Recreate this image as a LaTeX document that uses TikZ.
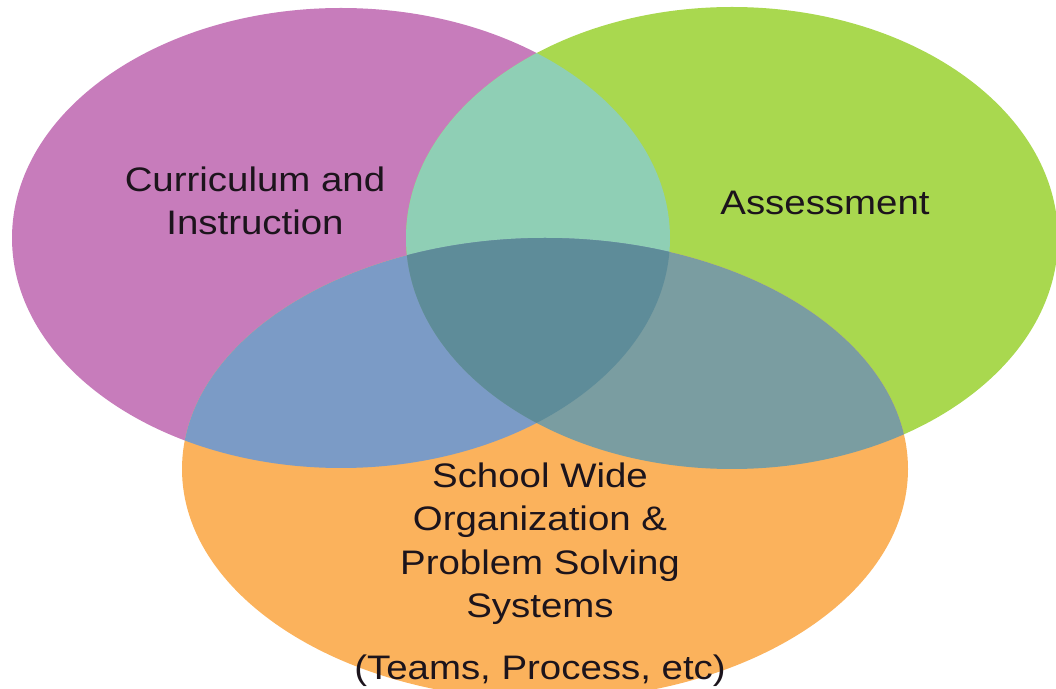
\documentclass[tikz,border=0pt]{standalone}
\usepackage{fontspec}
\setmainfont{Liberation Sans}

\definecolor{curricfill}{HTML}{C77CBB}
\definecolor{assessfill}{HTML}{A9D84F}
\definecolor{schoolfill}{HTML}{FBB25C}
\definecolor{curricassess}{HTML}{8FCFB5}
\definecolor{curricschool}{HTML}{7B9BC6}
\definecolor{assessschool}{HTML}{7A9DA1}
\definecolor{allthree}{HTML}{5E8C99}
\definecolor{labeltext}{HTML}{1C141C}

\begin{document}
\begin{tikzpicture}[
  x=0.5pt, y=-0.5pt,
  curricarea/.style={insert path={(341,238) ellipse [x radius=329, y radius=230]}},
  assessarea/.style={insert path={(732,238) ellipse [x radius=326, y radius=231]}},
  schoolarea/.style={insert path={(545,469) ellipse [x radius=363, y radius=231]}},
  vennlabel/.style={
    font=\fontsize{17}{21.75}\selectfont,
    text=labeltext,
    align=center,
    inner sep=0pt,
    xscale=1.13
  }
]
\useasboundingbox (0,0) rectangle (1056,689);

% circles
\fill[curricfill, curricarea];
\fill[assessfill, assessarea];
\fill[schoolfill, schoolarea];

% overlaps
\begin{scope}
  \clip[curricarea];
  \fill[curricassess, assessarea];
  \fill[curricschool, schoolarea];
\end{scope}
\begin{scope}
  \clip[assessarea];
  \fill[assessschool, schoolarea];
\end{scope}
\begin{scope}
  \clip[curricarea];
  \clip[assessarea];
  \fill[allthree, schoolarea];
\end{scope}

% labels
\node[vennlabel, anchor=north] (curric) at (255,166) {Curriculum and\\Instruction};
\node[vennlabel, anchor=base] (assess) at (825,215) {Assessment};
\node[vennlabel, anchor=north] (school) at (540,462) {School Wide\\Organization \&\\Problem Solving\\Systems};
\node[vennlabel, anchor=base] (schoolnote) at (540,680) {(Teams, Process, etc)};

\end{tikzpicture}
\end{document}
